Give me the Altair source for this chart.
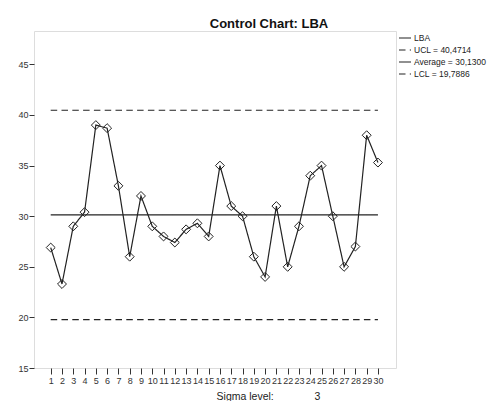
import altair as alt
import pandas as pd

# Individual LBA measurements per sample and the control limits
samples = list(range(1, 31))
lba = [26.9, 23.3, 29.0, 30.4, 39.0, 38.7, 33.0, 26.0, 32.0, 29.0,
       28.0, 27.4, 28.7, 29.3, 28.0, 35.0, 31.0, 30.0, 26.0, 24.0,
       31.0, 25.0, 29.0, 34.0, 35.0, 30.0, 25.0, 27.0, 38.0, 35.3]
ucl = 40.4714
center = 30.1300
lcl = 19.7886
sigma_level = 3
y_ticks = [15, 20, 25, 30, 35, 40, 45]


def fmt(v):
    return f"{v:.4f}".replace(".", ",")


names = ["LBA", f"UCL = {fmt(ucl)}", f"Average = {fmt(center)}", f"LCL = {fmt(lcl)}"]
dashes = [[1, 0], [6.5, 4.3], [1, 0], [6.5, 4.3]]

rows = [{"sample": s, "value": v, "series": names[0]} for s, v in zip(samples, lba)]
for name, level in zip(names[1:], [ucl, center, lcl]):
    for s in (samples[0], samples[-1]):
        rows.append({"sample": s, "value": level, "series": name})
df = pd.DataFrame(rows)
pts = pd.DataFrame({"sample": samples, "value": lba})

FONT = "Liberation Sans"
INK = "#222222"

x_enc = alt.X(
    "sample:Q",
    scale=alt.Scale(domain=[-0.48, 31.6], nice=False, zero=False),
    axis=alt.Axis(
        values=samples, format="d", labelOverlap=False, labelFlush=False,
        labelSeparation=0, labelBound=False,
        grid=False, domain=False, tickSize=6, tickColor="#333", labelPadding=2,
        labelFontSize=9, labelColor="#333", labelFont=FONT,
        title="Sigma level:" + "\u00a0" * 14 + str(sigma_level),
        titleFont=FONT, titleFontSize=10.5, titleFontWeight="normal", titleColor="#222",
        titleX=234, titleY=31, titleAlign="center", titleBaseline="alphabetic",
    ),
)
y_enc = alt.Y(
    "value:Q",
    scale=alt.Scale(domain=[15, 48.3], nice=False, zero=False),
    axis=alt.Axis(
        values=y_ticks, grid=False, domain=False, tickSize=5, tickColor="#333",
        labelPadding=1, labelFontSize=9, labelColor="#333", labelFont=FONT, title=None,
    ),
)

lines = alt.Chart(df).mark_line(color=INK, strokeWidth=1.2).encode(
    x=x_enc,
    y=y_enc,
    detail="series:N",
    strokeDash=alt.StrokeDash(
        "series:N",
        scale=alt.Scale(domain=names, range=dashes),
        sort=names,
        legend=alt.Legend(
            title=None, orient="none", legendX=364, legendY=0, padding=0,
            symbolType="stroke", symbolSize=144, symbolStrokeWidth=1.2,
            symbolStrokeColor=INK, labelFont=FONT, labelFontSize=8.5,
            labelColor="#222", labelOffset=2, rowPadding=-2,
        ),
    ),
)

markers = alt.Chart(pts).mark_point(
    shape="diamond", size=80, filled=False, color=INK, strokeWidth=1, opacity=1
).encode(x=x_enc, y=y_enc)

chart = (
    alt.layer(lines, markers)
    .properties(
        width=362,
        height=337,
        padding={"left": 34, "top": 31, "right": 97, "bottom": 33},
        autosize=alt.AutoSizeParams(type="none"),
        title=alt.TitleParams(
            "Control Chart: LBA", font=FONT, fontSize=13, fontWeight="bold",
            color="#111", anchor="middle", dx=54, offset=0,
        ),
    )
    .configure_view(fill="#f0f0f0", stroke="#3c3c3c", strokeWidth=1.2)
    .configure(background="white")
)

chart.save("out.html", embed_options={"renderer": "svg", "actions": False})
